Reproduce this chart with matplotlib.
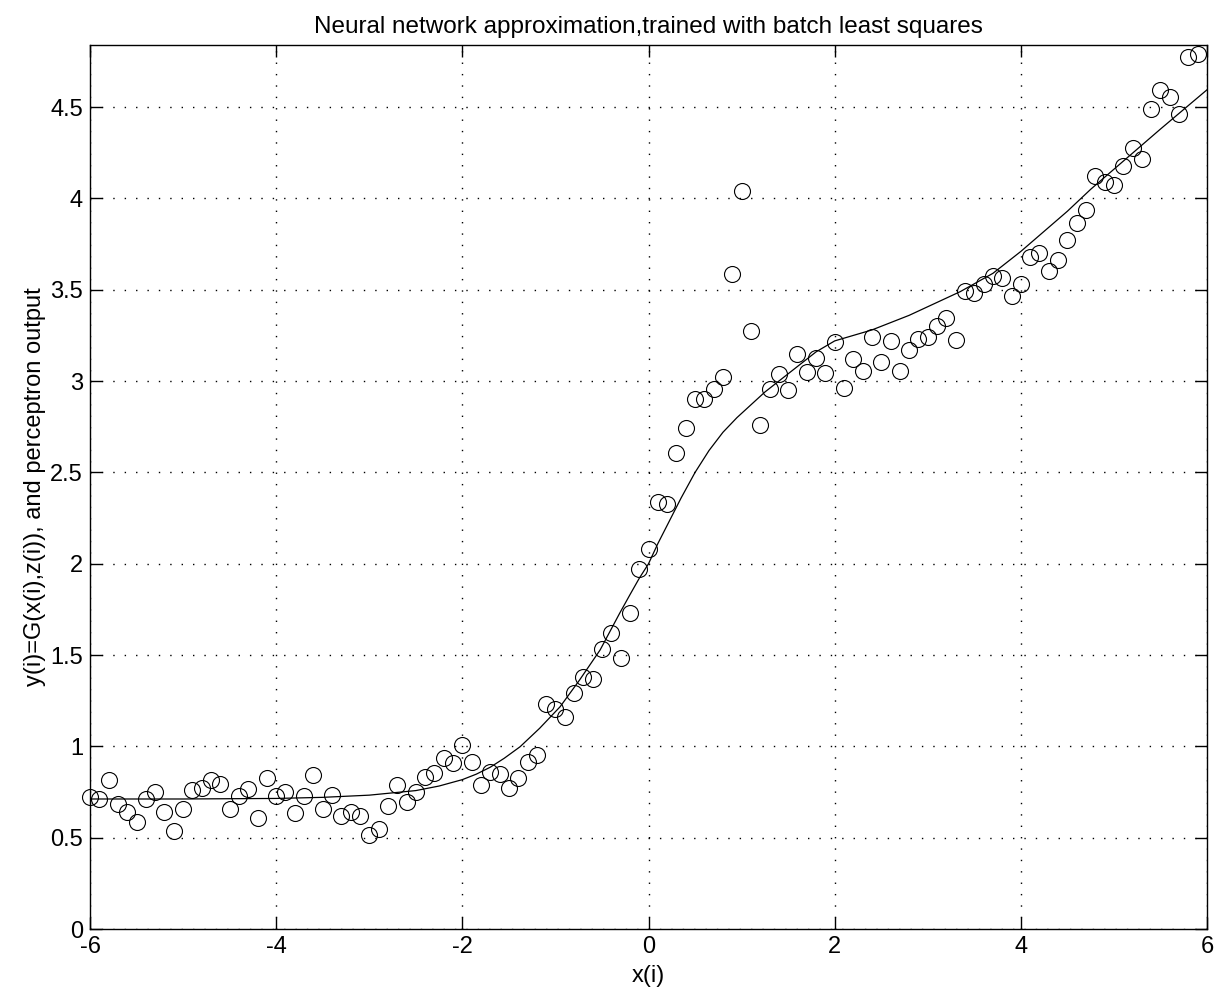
import numpy as np
import matplotlib
matplotlib.use("Agg")
import matplotlib.pyplot as plt

plt.rcParams["font.family"] = ["Liberation Sans", "DejaVu Sans"]
plt.rcParams["lines.scale_dashes"] = False
plt.rcParams["axes.unicode_minus"] = False

# training data: x(i) from -6.0 to 5.9 in steps of 0.1
x_data = np.linspace(-6.0, 5.9, 120)
y_data = [
    0.724, 0.712, 0.814, 0.686, 0.642, 0.584, 0.710, 0.748, 0.641, 0.535,
    0.659, 0.760, 0.772, 0.814, 0.796, 0.655, 0.730, 0.768, 0.610, 0.827,
    0.727, 0.750, 0.635, 0.730, 0.845, 0.659, 0.736, 0.619, 0.641, 0.621,
    0.515, 0.548, 0.672, 0.786, 0.697, 0.750, 0.832, 0.854, 0.938, 0.911,
    1.008, 0.915, 0.789, 0.858, 0.850, 0.772, 0.829, 0.916, 0.955, 1.231,
    1.206, 1.163, 1.294, 1.382, 1.369, 1.533, 1.623, 1.482, 1.732, 1.971,
    2.081, 2.340, 2.325, 2.605, 2.744, 2.903, 2.901, 2.955, 3.025, 3.585,
    4.040, 3.273, 2.762, 2.957, 3.041, 2.952, 3.150, 3.051, 3.129, 3.045,
    3.216, 2.964, 3.121, 3.057, 3.244, 3.103, 3.222, 3.056, 3.169, 3.233,
    3.240, 3.300, 3.346, 3.226, 3.494, 3.481, 3.530, 3.577, 3.567, 3.468,
    3.530, 3.682, 3.700, 3.605, 3.664, 3.771, 3.864, 3.937, 4.125, 4.092,
    4.072, 4.178, 4.275, 4.218, 4.489, 4.595, 4.558, 4.461, 4.777, 4.792,
]

# perceptron output
x_fit = [-6.0, -5.0, -4.0, -3.5, -3.0, -2.5, -2.25, -2.0, -1.85, -1.7,
         -1.55, -1.38, -1.17, -0.95, -0.74, -0.52, -0.31, -0.2, -0.1, 0.0,
         0.1, 0.2, 0.35, 0.5, 0.65, 0.8, 0.95, 1.1, 1.25, 1.4,
         1.6, 1.8, 2.0, 2.4, 2.8, 3.35, 3.7, 4.0, 4.25, 4.5,
         4.75, 5.0, 5.5, 6.0]
y_fit = [0.712, 0.712, 0.715, 0.721, 0.733, 0.758, 0.783, 0.818, 0.848, 0.886,
         0.935, 0.998, 1.099, 1.217, 1.364, 1.528, 1.729, 1.83, 1.92, 2.00,
         2.11, 2.21, 2.36, 2.50, 2.62, 2.72, 2.80, 2.87, 2.94, 3.00,
         3.08, 3.16, 3.22, 3.28, 3.36, 3.49, 3.59, 3.71, 3.82, 3.93,
         4.05, 4.16, 4.38, 4.595]

fig = plt.figure(figsize=(12.18, 9.98), dpi=100)
ax = fig.add_axes([0.0739, 0.0691, 0.9171, 0.8858])

ax.plot(x_data, y_data, "o", mfc="none", mec="black", ms=11.5, mew=0.8, clip_on=False)
ax.plot(x_fit, y_fit, "-", color="black", lw=0.9)

ax.set_xlim(-6, 6)
ax.set_ylim(0, 4.84)
ax.set_xticks([-6, -4, -2, 0, 2, 4, 6])
ax.set_yticks([0, 0.5, 1, 1.5, 2, 2.5, 3, 3.5, 4, 4.5])
ax.set_yticklabels(["0", "0.5", "1", "1.5", "2", "2.5", "3", "3.5", "4", "4.5"])

ax.grid(True, color="black", linestyle=(0, (1, 7.2)), linewidth=1.0)
ax.tick_params(direction="in", length=8.5, width=1.0, top=True, right=True,
               labelsize=17, pad=5)
for s in ax.spines.values():
    s.set_linewidth(1.0)

ax.set_title("Neural network approximation,trained with batch least squares",
             fontsize=17.5, pad=9)
ax.set_xlabel("x(i)", fontsize=17, labelpad=5)
ax.set_ylabel("y(i)=G(x(i),z(i)), and perceptron output", fontsize=17, labelpad=3)

fig.savefig("out.png", dpi=100)
